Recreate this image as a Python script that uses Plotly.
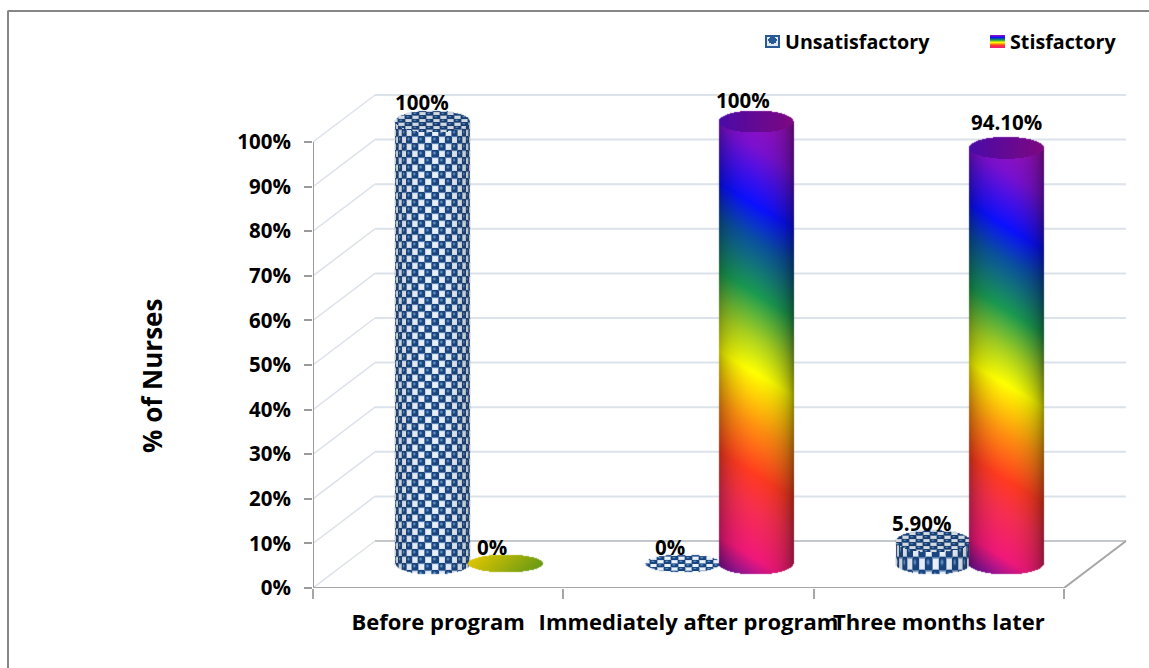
import numpy as np
import plotly.graph_objects as go

# Chart content
categories = ["Before program", "Immediately after program", "Three months later"]
unsatisfactory = [100, 0, 5.9]
satisfactory = [0, 100, 94.1]
unsatisfactory_labels = ["100%", "0%", "5.90%"]
satisfactory_labels = ["0%", "100%", "94.10%"]
y_ticks = [0, 10, 20, 30, 40, 50, 60, 70, 80, 90, 100]
y_tick_labels = ["0%", "10%", "20%", "30%", "40%", "50%", "60%", "70%", "80%", "90%", "100%"]
series_names = ["Unsatisfactory", "Stisfactory"]
axis_title = "% of Nurses"

# Page and axis geometry
W, H = 1149, 668
ORIGIN_X, ORIGIN_Y = 313, 588
PX_PER_CAT = 250.33
PX_PER_PCT = 4.46
DEPTH_PX_X, DEPTH_PX_Y = 62, 47
BAR_OFFSET = 0.146
BAR_HALF_W = 37.5
CAP_B = 11.0
FLAT_B = 9.0
BASE_INSET_PX = 4.0
FONT = "Open Sans"


def x_of(px):
    return (px - ORIGIN_X) / PX_PER_CAT


def y_of(py):
    return (ORIGIN_Y - py) / PX_PER_PCT


def hex_rgb(h):
    return np.array([int(h[i:i + 2], 16) for i in (1, 3, 5)], dtype=float)


RAINBOW = [(-0.06, "#7a109a"), (0.01, "#f0187a"), (0.12, "#f52e50"), (0.20, "#ff3a20"),
           (0.31, "#ff9010"), (0.43, "#ffff00"), (0.51, "#a8d020"), (0.61, "#1a9a50"),
           (0.73, "#0a50a0"), (0.81, "#0a10ff"), (0.94, "#7a10d0"), (1.06, "#a010b0")]


def rainbow(t):
    pos = [s[0] for s in RAINBOW]
    rgb = np.array([hex_rgb(s[1]) for s in RAINBOW])
    return np.stack([np.interp(t, pos, rgb[:, k]) for k in range(3)], axis=-1)


def checks(u, v, cell_w, cell_h):
    """Staggered blue balls on a pale ground; u, v are surface coordinates in pixels."""
    cu, cv = u / cell_w, v / cell_h
    iu, iv = np.floor(cu), np.floor(cv)
    fu, fv = cu - iu - 0.5, cv - iv - 0.5
    on = (iu + iv) % 2 == 0
    d = np.sqrt(fu ** 2 + fv ** 2)
    ground = hex_rgb("#e9f0f8")
    ball = hex_rgb("#1b457f")
    hi = hex_rgb("#5f8fc4")
    out = np.ones(u.shape + (3,)) * ground
    m = np.clip((0.84 - d) / 0.2, 0, 1)[..., None] * on[..., None]
    out = out * (1 - m) + ball * m
    h = np.clip((0.3 - np.sqrt((fu + 0.1) ** 2 + (fv + 0.14) ** 2)) / 0.22, 0, 1)[..., None] * on[..., None]
    out = out * (1 - h) + hi * h
    # dark fleck at the corners of the pale cells
    k = np.clip((np.maximum(np.abs(fu), np.abs(fv)) - 0.34) / 0.14, 0, 1)[..., None] * (~on)[..., None]
    out = out * (1 - 0.75 * k) + hex_rgb("#2d5c96") * 0.75 * k
    return out


def cylinder(cat_pos, value, kind):
    """Pixel image of a cylinder standing halfway into the floor, with height taken from value."""
    cx = ORIGIN_X + cat_pos * PX_PER_CAT + DEPTH_PX_X / 2
    base = ORIGIN_Y - DEPTH_PX_Y / 2 - 1
    height = max(0.0, value * PX_PER_PCT - BASE_INSET_PX)
    flat = height == 0
    b = FLAT_B if flat else CAP_B
    top = base - height
    x0 = int(np.floor(cx - BAR_HALF_W - 2))
    y0 = int(np.floor(top - b - 2))
    nx = int(2 * BAR_HALF_W + 5)
    ny = int(np.ceil(base + b + 2)) - y0
    px, py = np.meshgrid(x0 + np.arange(nx) + 0.5, y0 + np.arange(ny) + 0.5)

    n = (px - cx) / BAR_HALF_W
    root = np.sqrt(np.clip(1 - n ** 2, 0, 1))
    in_cap = ((py - top) / b) ** 2 + n ** 2 <= 1
    body = (py >= top) & (py <= base + b * root) & (np.abs(n) <= 1)
    shade = 0.42 + 0.58 * np.sqrt(np.clip(1 - ((n + 0.04) / 1.06) ** 2, 0, 1))
    u = BAR_HALF_W * np.arcsin(np.clip(n, -1, 1)) + 400
    col = np.zeros(px.shape + (3,))

    if kind == "checks":
        cell_h = 7.0 if height > 60 else 13.0
        tex = checks(u, py - base + 7000, 7.0, cell_h)
        col[...] = tex * (0.35 + 0.65 * shade)[..., None] + 255 * (1 - (0.35 + 0.65 * shade))[..., None] * 0.12
        cap = checks(px + 400, py + 700, 7.0, 3.5) * 0.9
        col[in_cap] = cap[in_cap]
        if flat:
            col = checks(px + 400, py + 700, 7.0, 3.6)
    elif flat:
        g = np.clip((n + 1 + (py - base) / b * 0.25) / 2, 0, 1)[..., None]
        col = hex_rgb("#dcc400") * (1 - g) + hex_rgb("#6a9a14") * g
    else:
        t = (base - py + 0.6 * (px - cx)) / height
        col = rainbow(t) * shade[..., None]
        g = ((n + 1) / 2)[..., None]
        cap = hex_rgb("#4a0aa8") * (1 - g) + hex_rgb("#7d0880") * g
        col[in_cap] = cap[in_cap]

    # soft silhouette so the outline is not jagged
    a = (body | in_cap).astype(float)
    soft = a.copy()
    soft[1:-1, 1:-1] = (a[1:-1, 1:-1] * 4 + a[:-2, 1:-1] + a[2:, 1:-1] + a[1:-1, :-2] + a[1:-1, 2:]) / 8
    rgba = np.dstack([np.clip(col, 0, 255), soft])
    return rgba[::-1], x0, y0 + ny


def swatch(kind, x0, y0, w, h):
    px, py = np.meshgrid(np.arange(w) + 0.5, np.arange(h) + 0.5)
    if kind == "checks":
        col = np.ones((h, w, 3)) * hex_rgb("#2a5a94")
        inner = (px > 2) & (px < w - 2) & (py > 2) & (py < h - 2)
        col[inner] = hex_rgb("#dfe8f3")
        blob = ((px - w / 2) / (w * 0.28)) ** 2 + ((py - h * 0.42) / (h * 0.26)) ** 2 <= 1
        col[blob] = hex_rgb("#2a5a94")
    else:
        col = rainbow(1 - py / h * 1.0)
    rgba = np.dstack([col, np.ones((h, w))])
    return rgba[::-1], x0, y0 + h


def image_trace(rgba, x0, bottom, name):
    return go.Image(
        z=rgba.round(3).tolist(),
        colormodel="rgba",
        x0=x_of(x0 + 0.5),
        y0=y_of(bottom - 0.5),
        dx=1 / PX_PER_CAT,
        dy=1 / PX_PER_PCT,
        name=name,
        hoverinfo="skip",
    )


fig = go.Figure()

annotations = []
# (sideways, upward) nudge of each value label relative to its cylinder top
unsat_nudge = [(-11, 20), (-13, 17), (-12, 18)]
sat_nudge = [(-14, 17), (-13, 22), (0, 26)]

for i, cat in enumerate(categories):
    for pos, value, label, kind, name, nudge in [
        (i + 0.5 - BAR_OFFSET, unsatisfactory[i], unsatisfactory_labels[i], "checks", series_names[0], unsat_nudge[i]),
        (i + 0.5 + BAR_OFFSET, satisfactory[i], satisfactory_labels[i], "rainbow", series_names[1], sat_nudge[i]),
    ]:
        rgba, x0, bottom = cylinder(pos, value, kind)
        fig.add_trace(image_trace(rgba, x0, bottom, name))
        height = max(0.0, value * PX_PER_PCT - BASE_INSET_PX)
        top_px = ORIGIN_Y - DEPTH_PX_Y / 2 - 1 - height
        annotations.append(dict(
            x=pos + x_of(ORIGIN_X + DEPTH_PX_X / 2), y=y_of(top_px),
            text=label, showarrow=False, xanchor="center", yanchor="middle",
            xshift=nudge[0], yshift=nudge[1],
            font=dict(family=FONT, size=20.5, color="#000000", weight=700),
        ))

# Legend entries
for kind, sx, tx, name in [("checks", 765, 783, series_names[0]), ("rainbow", 990, 1008, series_names[1])]:
    rgba, x0, bottom = swatch(kind, sx, 35, 15, 13)
    fig.add_trace(image_trace(rgba, x0, bottom, name))
    annotations.append(dict(
        xref="paper", yref="paper", x=tx / W, y=1 - 41 / H, text=name, showarrow=False,
        xanchor="left", yanchor="middle",
        font=dict(family=FONT, size=19.7, color="#000000", weight=700),
    ))

annotations.append(dict(
    xref="paper", yref="paper", x=152 / W, y=1 - 376 / H, text=axis_title, showarrow=False,
    textangle=-90, xanchor="center", yanchor="middle",
    font=dict(family=FONT, size=26, color="#000000", weight=700),
))

# Walls, floor and axis lines sit under the cylinders
dx_depth = DEPTH_PX_X / PX_PER_CAT
dy_depth = DEPTH_PX_Y / PX_PER_PCT
n_cat = len(categories)
shapes = []


def seg(x1, y1, x2, y2, color, width):
    shapes.append(dict(type="line", xref="x", yref="y", x0=x1, y0=y1, x1=x2, y1=y2,
                       line=dict(color=color, width=width), layer="below"))


for v in y_ticks:
    back = "#c4c8cc" if v == 0 else "#dbe2ea"
    seg(0, v, dx_depth, v + dy_depth, "#dde2ea", 1.5)
    seg(dx_depth, v + dy_depth, n_cat + dx_depth, v + dy_depth, back, 2)
seg(0, 0, 0, max(y_ticks), "#9a9a9a", 2)
seg(0, 0, n_cat, 0, "#a6a6a6", 2)
seg(n_cat, 0, n_cat + dx_depth, dy_depth, "#a6a6a6", 2)

# Outer frame of the chart area, running off the page at the right and bottom
for x1, y1, x2, y2 in [(7.5, 11, W, 11), (8, 11, 8, H)]:
    shapes.append(dict(type="line", xref="paper", yref="paper",
                       x0=x1 / W, y0=1 - y1 / H, x1=x2 / W, y1=1 - y2 / H,
                       line=dict(color="#868686", width=2)))

y_tick_font = dict(family=FONT, size=20.5, color="#000000", weight=700)
x_tick_font = dict(family=FONT, size=22, color="#000000", weight=700)
fig.update_layout(
    width=W, height=H, autosize=False,
    margin=dict(l=0, r=0, t=0, b=0, pad=0, autoexpand=False),
    paper_bgcolor="#ffffff", plot_bgcolor="#ffffff",
    showlegend=False,
    shapes=shapes, annotations=annotations,
    xaxis=dict(
        domain=[ORIGIN_X / W, 1], range=[0, (W - ORIGIN_X) / PX_PER_CAT], anchor="y",
        tickmode="array", tickvals=[i + 0.5 for i in range(n_cat)], ticktext=categories,
        ticks="", ticklabelstandoff=19, tickfont=x_tick_font, tickangle=0,
        showgrid=False, zeroline=False, showline=False, constrain="range", automargin=False,
        minor=dict(tick0=0, dtick=1, ticks="outside", ticklen=10, tickwidth=2, tickcolor="#a6a6a6", showgrid=False),
    ),
    yaxis=dict(
        domain=[(H - ORIGIN_Y) / H, 1], range=[0, ORIGIN_Y / PX_PER_PCT], anchor="x",
        tickmode="array", tickvals=y_ticks, ticktext=y_tick_labels,
        ticks="outside", ticklen=8, tickwidth=2, tickcolor="#9a9a9a", tickfont=y_tick_font,
        ticklabelstandoff=9,
        showgrid=False, zeroline=False, showline=False, automargin=False,
        scaleanchor=False, constrain="range",
    ),
)

fig.write_html("out.html")
